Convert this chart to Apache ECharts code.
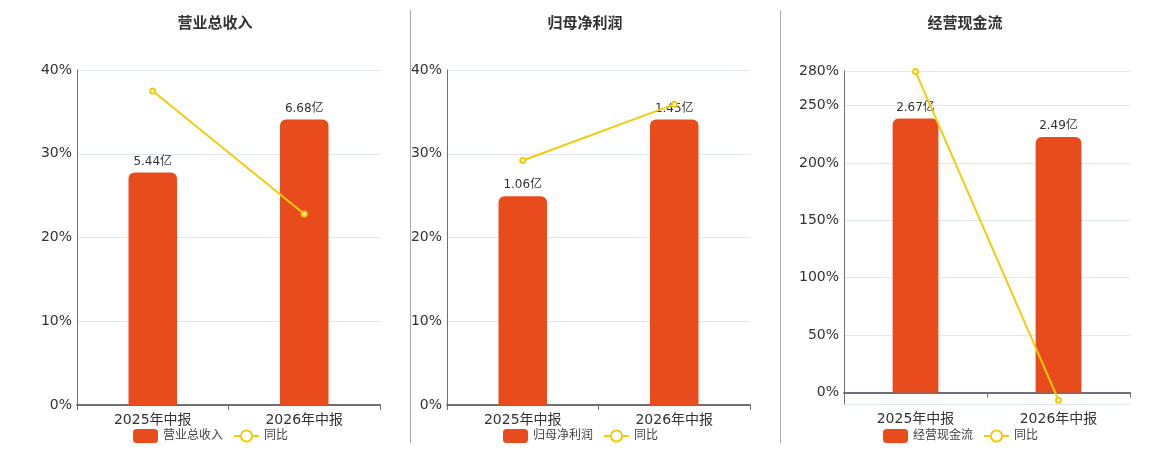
<!DOCTYPE html>
<html>
<head>
<meta charset="utf-8">
<script src="https://cdn.jsdelivr.net/npm/echarts@6/dist/echarts.min.js"></script>
<style>
  html, body { margin: 0; padding: 0; background: #fff; }
  #main { width: 1160px; height: 450px; }
</style>
</head>
<body>
<div id="main"></div>
<script>
// data
const categories = ["2025年中报", "2026年中报"];
const titles = ["营业总收入", "归母净利润", "经营现金流"];
const revenue = [5.44, 6.68];        // 亿
const netProfit = [1.06, 1.45];      // 亿
const cashFlow = [2.67, 2.49];       // 亿
const revenueYoy = [37.5, 22.8];     // %
const netProfitYoy = [29.2, 35.9];   // %
const cashFlowYoy = [279.5, -6.7];   // %
const pctMin = [0, 0, -10];
const pctMax = [40, 40, 280];

const barSeries = [revenue, netProfit, cashFlow];
const yoySeries = [revenueYoy, netProfitYoy, cashFlowYoy];

const barColor = "#E84C1C";
const lineColor = "#F2CC0C";

// panel layout
const grids = [
  { left: 77, width: 303, top: 70, height: 335 },
  { left: 447, width: 303, top: 70, height: 335 },
  { left: 844, width: 286, top: 71, height: 333 }
];
const centers = [210, 580, 960];
const legendLeft = [128, 498, 878];

let title = [], legend = [], xAxis = [], yAxis = [], series = [];

titles.forEach((name, i) => {
  title.push({
    text: name,
    left: centers[i],
    top: 12,
    textAlign: "center",
    textStyle: { fontSize: 15, fontWeight: "bold", color: "#333" }
  });

  legend.push({
    left: legendLeft[i],
    top: 424,
    itemWidth: 25,
    itemHeight: 14,
    itemGap: 10,
    textStyle: { fontSize: 12, color: "#444" },
    data: [{ name: name, icon: "roundRect" }, { name: "同比" }]
  });

  xAxis.push({
    type: "category",
    gridIndex: i,
    data: categories,
    axisLine: { onZero: true, lineStyle: { color: "#6E7079", width: 2 } },
    axisTick: { show: true, lineStyle: { color: "#6E7079" } },
    axisLabel: { fontSize: 14, color: "#333", margin: 8 }
  });

  // visible percent axis
  yAxis.push({
    type: "value",
    gridIndex: i,
    min: pctMin[i],
    max: pctMax[i],
    interval: i === 2 ? undefined : 10,
    splitNumber: 5,
    axisLine: { show: true, lineStyle: { color: "#6E7079" } },
    axisTick: { show: false },
    axisLabel: {
      fontSize: 14,
      color: "#333",
      margin: 5,
      showMinLabel: i !== 2,
      formatter: "{value}%"
    },
    splitLine: { lineStyle: { color: "#E0E6F1" } }
  });

  // hidden axis for the bars, zero aligned with the percent axis
  let bMax = Math.max(...barSeries[i]) * 1.173;
  let bMin = bMax * pctMin[i] / pctMax[i];
  yAxis.push({
    type: "value",
    gridIndex: i,
    min: bMin,
    max: bMax,
    show: false,
    splitLine: { show: false }
  });

  series.push({
    name: name,
    type: "bar",
    xAxisIndex: i,
    yAxisIndex: i * 2 + 1,
    data: barSeries[i],
    barWidth: "32%",
    z: 2,
    itemStyle: { color: barColor, borderRadius: [6, 6, 0, 0] },
    label: {
      show: true,
      position: "top",
      fontSize: 12,
      color: "#333",
      formatter: (p) => p.value.toFixed(2) + "亿"
    }
  });

  series.push({
    name: "同比",
    type: "line",
    xAxisIndex: i,
    yAxisIndex: i * 2,
    data: yoySeries[i],
    z: 5,
    symbol: "emptyCircle",
    symbolSize: 5,
    itemStyle: { color: lineColor },
    lineStyle: { color: lineColor, width: 2 }
  });
});

let myChart = echarts.init(document.getElementById("main"));
myChart.setOption({
  animation: false,
  textStyle: { fontFamily: "DejaVu Sans, Noto Sans CJK SC, sans-serif" },
  title: title,
  legend: legend,
  grid: grids,
  xAxis: xAxis,
  yAxis: yAxis,
  series: series,
  graphic: [
    { type: "line", shape: { x1: 410.5, y1: 10, x2: 410.5, y2: 443 }, style: { stroke: "#aaa", lineWidth: 1 } },
    { type: "line", shape: { x1: 780.5, y1: 10, x2: 780.5, y2: 443 }, style: { stroke: "#aaa", lineWidth: 1 } }
  ]
});
</script>
</body>
</html>
